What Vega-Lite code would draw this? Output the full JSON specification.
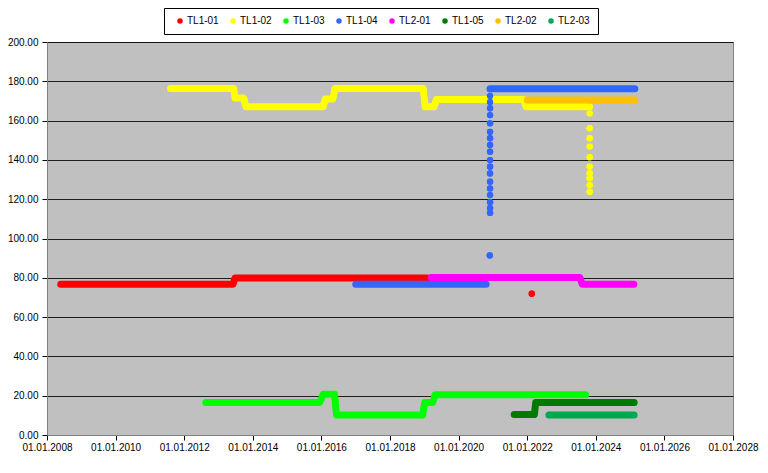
{
  "$schema": "https://vega.github.io/schema/vega-lite/v6.json",
  "width": 686,
  "height": 393,
  "autosize": "none",
  "padding": {"left": 47, "top": 42, "right": 35, "bottom": 38},
  "background": "#ffffff",
  "config": {
    "font": "Liberation Sans",
    "view": {"fill": "#C0C0C0", "stroke": "#808080", "strokeWidth": 1},
    "axis": {"labelFont": "Liberation Sans", "labelFontSize": 10, "labelColor": "#000000", "title": null, "tickColor": "#000000", "tickSize": 5, "domainColor": "#808080"},
    "legend": {"labelFont": "Liberation Sans", "labelFontSize": 10, "labelColor": "#000000"}
  },
  "datasets": {
    "lines": [
      {"series": "TL1-01", "seg": "a", "date": "2008-05-26", "value": 76.7},
      {"series": "TL1-01", "seg": "a", "date": "2013-06-05", "value": 76.7},
      {"series": "TL1-01", "seg": "a", "date": "2013-06-25", "value": 79.9},
      {"series": "TL1-01", "seg": "a", "date": "2019-02-10", "value": 79.9},
      {"series": "TL1-02", "seg": "a", "date": "2011-08-08", "value": 176.3},
      {"series": "TL1-02", "seg": "a", "date": "2013-06-10", "value": 176.3},
      {"series": "TL1-02", "seg": "a", "date": "2013-06-25", "value": 171.5},
      {"series": "TL1-02", "seg": "a", "date": "2013-09-25", "value": 171.5},
      {"series": "TL1-02", "seg": "a", "date": "2013-10-20", "value": 167.0},
      {"series": "TL1-02", "seg": "a", "date": "2016-01-20", "value": 167.0},
      {"series": "TL1-02", "seg": "a", "date": "2016-02-10", "value": 171.0},
      {"series": "TL1-02", "seg": "a", "date": "2016-05-01", "value": 171.0},
      {"series": "TL1-02", "seg": "a", "date": "2016-05-25", "value": 176.3},
      {"series": "TL1-02", "seg": "a", "date": "2018-12-20", "value": 176.3},
      {"series": "TL1-02", "seg": "a", "date": "2019-01-10", "value": 167.0},
      {"series": "TL1-02", "seg": "a", "date": "2019-04-15", "value": 167.0},
      {"series": "TL1-02", "seg": "a", "date": "2019-05-10", "value": 170.8},
      {"series": "TL1-02", "seg": "a", "date": "2021-11-25", "value": 170.8},
      {"series": "TL1-02", "seg": "a", "date": "2021-12-20", "value": 167.0},
      {"series": "TL1-02", "seg": "a", "date": "2023-10-28", "value": 167.0},
      {"series": "TL1-03", "seg": "a", "date": "2012-08-18", "value": 16.6},
      {"series": "TL1-03", "seg": "a", "date": "2015-12-15", "value": 16.6},
      {"series": "TL1-03", "seg": "a", "date": "2016-01-20", "value": 20.7},
      {"series": "TL1-03", "seg": "a", "date": "2016-05-20", "value": 20.7},
      {"series": "TL1-03", "seg": "a", "date": "2016-06-10", "value": 10.2},
      {"series": "TL1-03", "seg": "a", "date": "2018-12-15", "value": 10.2},
      {"series": "TL1-03", "seg": "a", "date": "2019-01-05", "value": 16.5},
      {"series": "TL1-03", "seg": "a", "date": "2019-04-01", "value": 16.5},
      {"series": "TL1-03", "seg": "a", "date": "2019-04-25", "value": 20.5},
      {"series": "TL1-03", "seg": "a", "date": "2023-09-15", "value": 20.5},
      {"series": "TL1-04", "seg": "a", "date": "2017-01-01", "value": 76.7},
      {"series": "TL1-04", "seg": "a", "date": "2020-10-20", "value": 76.7},
      {"series": "TL1-04", "seg": "b", "date": "2020-12-01", "value": 176.2},
      {"series": "TL1-04", "seg": "b", "date": "2025-02-20", "value": 176.2},
      {"series": "TL2-01", "seg": "a", "date": "2019-03-15", "value": 80.2},
      {"series": "TL2-01", "seg": "a", "date": "2023-07-15", "value": 80.2},
      {"series": "TL2-01", "seg": "a", "date": "2023-08-10", "value": 76.7},
      {"series": "TL2-01", "seg": "a", "date": "2025-02-10", "value": 76.7},
      {"series": "TL1-05", "seg": "a", "date": "2021-08-15", "value": 10.4},
      {"series": "TL1-05", "seg": "a", "date": "2022-03-18", "value": 10.4},
      {"series": "TL1-05", "seg": "a", "date": "2022-04-01", "value": 16.6},
      {"series": "TL1-05", "seg": "a", "date": "2025-02-12", "value": 16.6},
      {"series": "TL2-02", "seg": "a", "date": "2022-01-01", "value": 170.5},
      {"series": "TL2-02", "seg": "a", "date": "2025-02-20", "value": 170.5},
      {"series": "TL2-03", "seg": "a", "date": "2022-08-20", "value": 10.2},
      {"series": "TL2-03", "seg": "a", "date": "2025-02-12", "value": 10.2}
    ],
    "dots": [
      {"series": "TL1-01", "date": "2022-02-18", "value": 71.9},
      {"series": "TL1-02", "date": "2023-10-28", "value": 163.7},
      {"series": "TL1-02", "date": "2023-10-28", "value": 156.1},
      {"series": "TL1-02", "date": "2023-10-28", "value": 151.0},
      {"series": "TL1-02", "date": "2023-10-28", "value": 146.8},
      {"series": "TL1-02", "date": "2023-10-28", "value": 141.4},
      {"series": "TL1-02", "date": "2023-10-28", "value": 136.6},
      {"series": "TL1-02", "date": "2023-10-28", "value": 133.2},
      {"series": "TL1-02", "date": "2023-10-28", "value": 130.7},
      {"series": "TL1-02", "date": "2023-10-28", "value": 127.2},
      {"series": "TL1-02", "date": "2023-10-28", "value": 123.8},
      {"series": "TL1-04", "date": "2020-11-28", "value": 91.4},
      {"series": "TL1-04", "date": "2020-12-01", "value": 176.0},
      {"series": "TL1-04", "date": "2020-12-01", "value": 172.5},
      {"series": "TL1-04", "date": "2020-12-01", "value": 169.5},
      {"series": "TL1-04", "date": "2020-12-01", "value": 166.3},
      {"series": "TL1-04", "date": "2020-12-01", "value": 162.8},
      {"series": "TL1-04", "date": "2020-12-01", "value": 158.6},
      {"series": "TL1-04", "date": "2020-12-01", "value": 154.3},
      {"series": "TL1-04", "date": "2020-12-01", "value": 151.0},
      {"series": "TL1-04", "date": "2020-12-01", "value": 147.6},
      {"series": "TL1-04", "date": "2020-12-01", "value": 144.2},
      {"series": "TL1-04", "date": "2020-12-01", "value": 139.9},
      {"series": "TL1-04", "date": "2020-12-01", "value": 136.5},
      {"series": "TL1-04", "date": "2020-12-01", "value": 133.1},
      {"series": "TL1-04", "date": "2020-12-01", "value": 128.9},
      {"series": "TL1-04", "date": "2020-12-01", "value": 125.5},
      {"series": "TL1-04", "date": "2020-12-01", "value": 122.1},
      {"series": "TL1-04", "date": "2020-12-01", "value": 118.5},
      {"series": "TL1-04", "date": "2020-12-01", "value": 115.5},
      {"series": "TL1-04", "date": "2020-12-01", "value": 113.0}
    ]
  },
  "encoding": {
    "x": {
      "field": "date",
      "type": "temporal",
      "scale": {"type": "utc", "nice": false, "domain": [{"year": 2008, "month": 1, "date": 1, "utc": true}, {"year": 2028, "month": 1, "date": 1, "utc": true}]},
      "axis": {
        "values": [
          {"year": 2008, "month": 1, "date": 1, "utc": true},
          {"year": 2010, "month": 1, "date": 1, "utc": true},
          {"year": 2012, "month": 1, "date": 1, "utc": true},
          {"year": 2014, "month": 1, "date": 1, "utc": true},
          {"year": 2016, "month": 1, "date": 1, "utc": true},
          {"year": 2018, "month": 1, "date": 1, "utc": true},
          {"year": 2020, "month": 1, "date": 1, "utc": true},
          {"year": 2022, "month": 1, "date": 1, "utc": true},
          {"year": 2024, "month": 1, "date": 1, "utc": true},
          {"year": 2026, "month": 1, "date": 1, "utc": true},
          {"year": 2028, "month": 1, "date": 1, "utc": true}
        ],
        "labelExpr": "utcFormat(datum.value, '%d.%m.%Y')",
        "grid": false,
        "labelOverlap": false,
        "labelFlush": false,
        "labelPadding": 2
      }
    },
    "y": {
      "field": "value",
      "type": "quantitative",
      "scale": {"domain": [0, 200], "nice": false},
      "axis": {
        "values": [0, 20, 40, 60, 80, 100, 120, 140, 160, 180, 200],
        "format": ".2f",
        "grid": true,
        "gridColor": "#000000",
        "gridWidth": 1,
        "gridOpacity": 0.85,
        "labelPadding": 4
      }
    },
    "color": {
      "field": "series",
      "type": "nominal",
      "scale": {
        "domain": ["TL1-01", "TL1-02", "TL1-03", "TL1-04", "TL2-01", "TL1-05", "TL2-02", "TL2-03"],
        "range": ["#FF0000", "#FFFF00", "#00FF00", "#3366FF", "#FF00FF", "#007A00", "#FFC000", "#00A850"]
      },
      "legend": {
        "title": null,
        "orient": "none",
        "legendX": 117,
        "legendY": -34,
        "direction": "horizontal",
        "columns": 8,
        "symbolType": "circle",
        "symbolSize": 30,
        "symbolStrokeWidth": 0,
        "symbolOffset": 3,
        "labelOffset": 2,
        "columnPadding": 6,
        "padding": 8,
        "strokeColor": "#000000",
        "fillColor": "#ffffff"
      }
    }
  },
  "layer": [
    {
      "data": {"name": "dots"},
      "mark": {"type": "circle", "size": 40, "opacity": 1}
    },
    {
      "data": {"name": "lines"},
      "mark": {"type": "line", "strokeWidth": 7, "strokeCap": "round", "strokeJoin": "round"},
      "encoding": {
        "detail": {"field": "seg", "type": "nominal"}
      }
    },
    {
      "data": {"name": "dots"},
      "mark": {"type": "circle", "size": 40, "opacity": 1}
    }
  ]
}
